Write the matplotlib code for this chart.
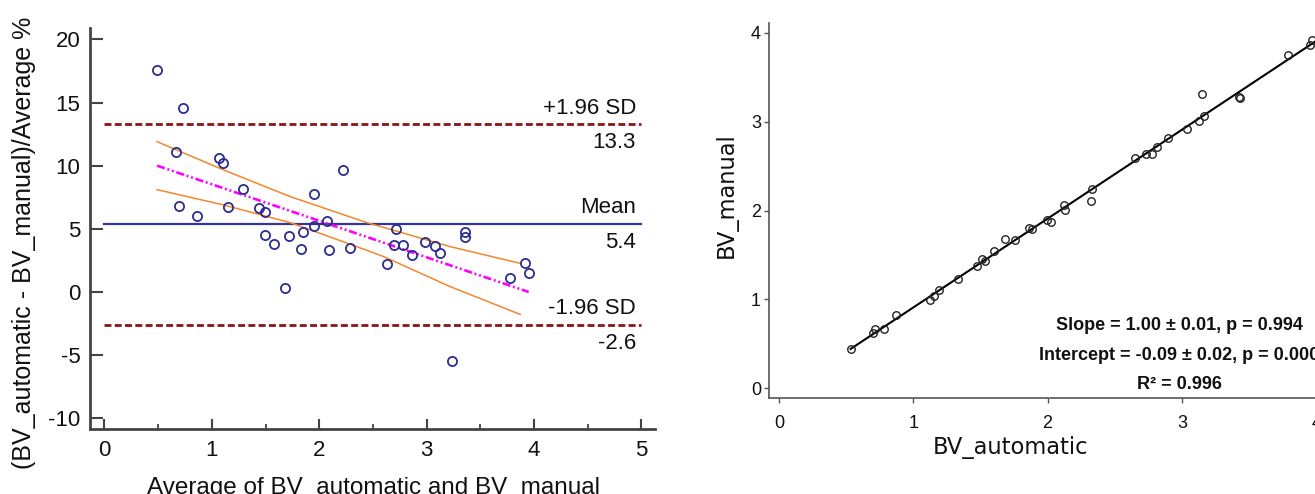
import matplotlib
matplotlib.use("Agg")
import matplotlib.pyplot as plt
import numpy as np

plt.rcParams['lines.scale_dashes'] = False
plt.rcParams['axes.unicode_minus'] = False

# ---------------- data ----------------
# Bland-Altman (left)
ba_avg = [0.49, 0.733, 0.67, 0.69, 0.858, 1.066, 1.105, 1.152, 1.289, 1.438, 1.493, 1.493,
          1.575, 1.685, 1.716, 1.846, 1.834, 1.951, 1.947, 2.073, 2.089, 2.222, 2.288, 2.629,
          2.692, 2.716, 2.778, 2.864, 2.986, 3.076, 3.127, 3.237, 3.358, 3.358, 3.777, 3.918, 3.95]
ba_diff_pct = [17.54, 14.56, 11.1, 6.84, 6.05, 10.6, 10.2, 6.71, 8.18, 6.62, 6.35, 4.52,
               3.80, 0.31, 4.47, 4.77, 3.43, 7.74, 5.21, 5.6, 3.36, 9.63, 3.52, 2.18,
               3.71, 4.99, 3.75, 2.92, 3.96, 3.65, 3.12, -5.43, 4.77, 4.35, 1.13, 2.26, 1.47]
ba_mean = 5.35
ba_upper = 13.3
ba_lower = -2.6
ba_mean_label = "5.4"
ba_upper_label = "13.3"
ba_lower_label = "-2.6"

reg_x = [0.49, 3.95]
reg_y = [10.0, 0.0]
ci_up_x = [0.49, 1.11, 1.73, 2.44, 3.22, 3.87]
ci_up_y = [11.9, 9.66, 7.55, 5.5, 3.59, 2.27]
ci_lo_x = [0.49, 1.11, 1.73, 2.35, 2.6, 3.22, 3.87]
ci_lo_y = [8.1, 6.89, 5.49, 3.59, 2.8, 0.42, -1.77]

# Regression (right)
bv_auto = [0.533, 0.703, 0.713, 0.781, 0.874, 1.125, 1.156, 1.19, 1.336, 1.478, 1.512, 1.534,
           1.599, 1.683, 1.754, 1.859, 1.884, 1.993, 2.027, 2.12, 2.126, 2.321, 2.33, 2.65,
           2.736, 2.777, 2.814, 2.894, 3.037, 3.13, 3.167, 3.146, 3.424, 3.432, 3.79, 3.951, 3.967]
bv_manual = [0.443, 0.623, 0.668, 0.668, 0.829, 0.998, 1.043, 1.111, 1.227, 1.381, 1.456, 1.437,
             1.542, 1.685, 1.674, 1.801, 1.794, 1.899, 1.876, 2.064, 2.008, 2.105, 2.248, 2.593,
             2.634, 2.634, 2.713, 2.814, 2.916, 3.009, 3.069, 3.317, 3.276, 3.268, 3.752, 3.865, 3.921]
slope = 1.00
intercept = -0.09
stats_lines = ["Slope = 1.00 \u00b1 0.01, p = 0.994",
               "Intercept = -0.09 \u00b1 0.02, p = 0.000",
               "R\u00b2 = 0.996"]

W, H = 1315, 494
fig = plt.figure(figsize=(W / 100, H / 100), dpi=100)

def px_rect(x0, y_top, x1, y_bot):
    return [x0 / W, (H - y_bot) / H, (x1 - x0) / W, (y_bot - y_top) / H]

# ---------------- left panel ----------------
ARIAL = ['Liberation Sans', 'DejaVu Sans']
ax1 = fig.add_axes(px_rect(90, 28, 655, 429.3))
ax1.set_xlim(-0.135, 5.126)
ax1.set_ylim(-10.87, 20.9)
for s in ['top', 'right']:
    ax1.spines[s].set_visible(False)
for s in ['left', 'bottom']:
    ax1.spines[s].set_color('#444444')
    ax1.spines[s].set_linewidth(2.0)

navy = '#2d2d8f'
ax1.plot([0, 5], [ba_upper, ba_upper], color='#8b1414', lw=2.0, dashes=(5.0, 2.4))
ax1.plot([0, 5], [ba_lower, ba_lower], color='#8b1414', lw=2.0, dashes=(5.0, 2.4))
ax1.plot([0, 5], [ba_mean, ba_mean], color='#34349a', lw=1.6)
ax1.plot(ci_up_x, ci_up_y, color='#f2872e', lw=1.1)
ax1.plot(ci_lo_x, ci_lo_y, color='#f2872e', lw=1.1)
ax1.plot(reg_x, reg_y, color='#ff00ff', lw=1.9, dashes=(5.8, 2.0, 1.4, 2.0, 1.4, 2.0))
ax1.plot(ba_avg, ba_diff_pct, 'o', ms=6.6, mfc='none', mec=navy, mew=1.3)

tfs = 16
for yv, txt, off in [(ba_upper, "+1.96 SD", 11.5), (ba_upper, ba_upper_label, -13),
                     (ba_mean, "Mean", 12), (ba_mean, ba_mean_label, -13),
                     (ba_lower, "-1.96 SD", 11.5), (ba_lower, ba_lower_label, -13.5)]:
    ax1.annotate(txt, xy=(4.95, yv), xytext=(0, off), textcoords='offset points',
                 ha='right', va='center', fontsize=tfs, family=ARIAL, color='#111111')

ax1.set_xticks([0, 1, 2, 3, 4, 5])
ax1.set_xticks([0.5, 1.5, 2.5, 3.5, 4.5], minor=True)
ax1.set_yticks([-10, -5, 0, 5, 10, 15, 20])
ax1.tick_params(axis='y', direction='in', length=9.5, width=1.5, color='#444444', pad=7)
ax1.tick_params(axis='x', which='major', direction='in', length=7.2, width=1.5, color='#444444', pad=8)
ax1.tick_params(axis='x', which='minor', direction='in', length=3.6, width=1.3, color='#444444')
for lab in ax1.get_xticklabels() + ax1.get_yticklabels():
    lab.set_family(ARIAL)
    lab.set_fontsize(tfs)
    lab.set_color('#111111')

fig.text(24 / W, 1 - 242.5 / H, "(BV_automatic - BV_manual)/Average %", rotation=90,
         ha='center', va='center', fontsize=18, family=ARIAL, color='#111111')
fig.text(373.5 / W, 0.0, "Average of BV_automatic and BV_manual",
         ha='center', va='baseline', fontsize=17.5, family=ARIAL, color='#111111')

# ---------------- right panel ----------------
ax2 = fig.add_axes(px_rect(769, 22.7, 1345, 398.3))
ax2.set_xlim(-0.0745, (1345 - 779) / 134.3)
ax2.set_ylim(-0.1125, 4.115)
for s in ['top', 'right']:
    ax2.spines[s].set_visible(False)
for s in ['left', 'bottom']:
    ax2.spines[s].set_color('#555555')
    ax2.spines[s].set_linewidth(1.2)

xs = np.array([min(bv_auto), max(bv_auto) + 0.03])
ax2.plot(xs, slope * xs + intercept, color='black', lw=1.5)
ax2.plot(bv_auto, bv_manual, 'o', ms=5.4, mfc='none', mec='#222222', mew=1.0)

ax2.set_xticks([0, 1, 2, 3, 4])
ax2.set_yticks([0, 1, 2, 3, 4])
ax2.tick_params(axis='both', direction='out', length=3.8, width=1.0, color='#555555')
ax2.tick_params(axis='y', pad=2)
ax2.tick_params(axis='x', pad=8)
for lab in ax2.get_xticklabels() + ax2.get_yticklabels():
    lab.set_family(ARIAL)
    lab.set_fontsize(13)
    lab.set_color('#111111')

for txt, yp in zip(stats_lines, [325, 355, 384]):
    ax2.text(2.98, (388.3 - yp) / 88.85, txt, ha='center', va='center', fontsize=13,
             family=ARIAL, fontweight='bold', color='#111111')

fig.text(1011 / W, 1 - 447 / H, "BV_automatic", ha='center', va='center',
         fontsize=16.3, family='DejaVu Sans', color='#111111')
fig.text(726 / W, 1 - 195.5 / H, "BV_manual", ha='center', va='center', rotation=90,
         fontsize=16.3, family='DejaVu Sans', color='#111111')

fig.savefig("out.png", dpi=100)
